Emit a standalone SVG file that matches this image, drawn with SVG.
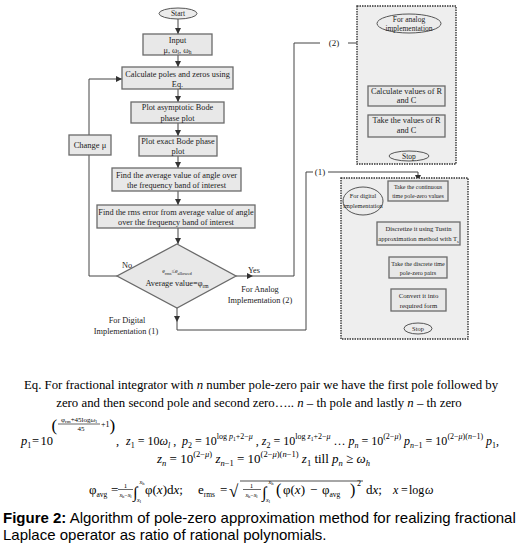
<svg xmlns="http://www.w3.org/2000/svg" width="530" height="557" viewBox="0 0 530 557">
<defs>
<marker id="ah" viewBox="0 0 10 10" refX="10" refY="5" markerWidth="6" markerHeight="7" markerUnits="userSpaceOnUse" orient="auto"><path d="M0,0 L10,5 L0,10 z" fill="#333"/></marker>
<style>
.box{fill:#e8e8e8;stroke:#6a6a6a;stroke-width:1.3}
.ell{fill:#ececec;stroke:#555;stroke-width:1}
.grp{fill:#eeeeee;stroke:#333;stroke-width:1.4;stroke-dasharray:1.5 1}
.ln{fill:none;stroke:#444;stroke-width:1}
.ar{fill:none;stroke:#444;stroke-width:1;marker-end:url(#ah)}
.t{font-family:"Liberation Serif",serif;font-size:8.3px;fill:#222;text-anchor:middle}
.m{font-family:"Liberation Serif",serif;font-size:13px;fill:#000}
.i{font-style:italic}
.cap{font-family:"Liberation Sans",Arial,sans-serif;font-size:15px;fill:#000}
</style>
</defs>

<g id="connectors">
<line class="ar" x1="178" y1="19" x2="178" y2="34"/>
<line class="ar" x1="178" y1="55" x2="178" y2="67"/>
<line class="ar" x1="178" y1="89" x2="178" y2="102"/>
<line class="ar" x1="178" y1="123" x2="178" y2="136"/>
<line class="ar" x1="178" y1="156" x2="178" y2="168"/>
<line class="ar" x1="178" y1="191" x2="178" y2="205"/>
<line class="ar" x1="178" y1="228" x2="178" y2="244"/>
<polyline class="ar" points="117,276 89,276 89,79 122,79"/>
<line class="ar" x1="236" y1="276" x2="253" y2="276"/>
<polyline class="ln" points="253,276 294,276 294,43 320,43"/>
<polyline class="ar" points="348,43 407,43 407,86"/>
<line class="ar" x1="177" y1="308" x2="177" y2="322"/>
<polyline class="ln" points="177,322 177,330 306,330 306,172 313,172"/>
<polyline class="ar" points="328,172 418,172 418,181"/>
<line class="ar" x1="407" y1="106" x2="407" y2="115"/>
<line class="ar" x1="407" y1="137" x2="407" y2="151"/>
<line class="ar" x1="418" y1="201" x2="418" y2="222"/>
<line class="ar" x1="418" y1="245" x2="418" y2="257"/>
<line class="ar" x1="418" y1="278" x2="418" y2="289"/>
<line class="ar" x1="418" y1="311" x2="418" y2="323"/>
</g>

<g id="labels">
<text class="t" x="127" y="268">No</text>
<text class="t" x="254" y="273">Yes</text>
<text class="t" x="260" y="292">For Analog</text>
<text class="t" x="260" y="303">Implementation (2)</text>
<text class="t" x="127" y="323">For Digital</text>
<text class="t" x="126" y="334">Implementation (1)</text>
<text class="t" x="334" y="46" style="font-size:9px">(2)</text>
<text class="t" x="320" y="175" style="font-size:9px">(1)</text>
</g>

<g id="start"><ellipse class="ell" cx="178" cy="13.5" rx="19" ry="5.5"/><text class="t" x="178" y="16.3" style="font-size:7.5px">Start</text></g>
<g id="input"><rect class="box" x="143" y="34" width="69" height="21"/><text class="t" x="177.5" y="43">Input</text><text class="t" x="177.5" y="52.5">μ, ω<tspan style="font-size:5.5px" dy="1.5">l</tspan><tspan dy="-1.5">, ω</tspan><tspan style="font-size:5.5px" dy="1.5">h</tspan></text></g>
<g id="calc"><rect class="box" x="122" y="67" width="111" height="22"/><text class="t" x="177.5" y="76.5">Calculate poles and zeros using</text><text class="t" x="177.5" y="86.5">Eq.</text></g>
<g id="asym"><rect class="box" x="131" y="102" width="93" height="21"/><text class="t" x="177.5" y="110">Plot asymptotic Bode</text><text class="t" x="177.5" y="120.5">phase plot</text></g>
<g id="exact"><rect class="box" x="139" y="136" width="78" height="20"/><text class="t" x="178" y="143.5">Plot exact Bode phase</text><text class="t" x="178" y="154">plot</text></g>
<g id="avg"><rect class="box" x="112" y="168" width="129" height="23"/><text class="t" x="176.5" y="177.5">Find the average value of angle over</text><text class="t" x="176.5" y="188">the frequency band of interest</text></g>
<g id="rms"><rect class="box" x="97" y="205" width="158" height="23"/><text class="t" x="176" y="214.5">Find the rms error from average value of angle</text><text class="t" x="176" y="225">over the frequency band of interest</text></g>
<g id="change"><rect class="box" x="69" y="135" width="42" height="20"/><text class="t" x="90" y="148" style="font-size:8.5px">Change μ</text></g>
<g id="decision"><polygon class="box" points="177,244 236,276 177,308 117,276"/><text class="t" x="177" y="273" style="font-size:6px">e<tspan dy="1.5" style="font-size:4.5px">rms</tspan><tspan dy="-1.5">≤e</tspan><tspan dy="1.5" style="font-size:4.5px">allowed</tspan></text><text class="t" x="177" y="286">Average value=φ<tspan dy="1.5" style="font-size:5.5px">rm</tspan></text></g>

<g id="analog">
<rect class="grp" x="357" y="6" width="99" height="158"/>
<g id="analog-title"><ellipse class="ell" cx="409" cy="23.5" rx="32" ry="9.5"/><text class="t" x="409" y="21.5" style="font-size:7.5px">For analog</text><text class="t" x="409" y="30.5" style="font-size:7.5px">implementation</text></g>
<g id="calcRC"><rect class="box" x="368" y="86" width="77" height="20"/><text class="t" x="406.5" y="94">Calculate values of R</text><text class="t" x="406.5" y="103">and C</text></g>
<g id="takeRC"><rect class="box" x="368" y="115" width="77" height="22"/><text class="t" x="406.5" y="123">Take the values of R</text><text class="t" x="406.5" y="133">and C</text></g>
<g id="stop1"><ellipse class="ell" cx="409" cy="156" rx="20" ry="5"/><text class="t" x="409" y="158.6" style="font-size:7.5px">Stop</text></g>
</g>

<g id="digital">
<rect class="grp" x="341" y="178" width="127" height="161"/>
<g id="digital-title"><ellipse class="ell" cx="363" cy="201" rx="20" ry="14"/><text class="t" x="363" y="198" style="font-size:6.3px">For digital</text><text class="t" x="363" y="207.5" style="font-size:6.3px">implementation</text></g>
<g id="cont"><rect class="box" x="388" y="181" width="60" height="20"/><text class="t" x="418" y="189" style="font-size:6px">Take the continuous</text><text class="t" x="418" y="197.5" style="font-size:6px">time pole-zero values</text></g>
<g id="tustin"><rect class="box" x="377" y="222" width="83" height="23"/><text class="t" x="418.5" y="231" style="font-size:6.6px">Discretize it using Tustin</text><text class="t" x="418.5" y="241" style="font-size:6.6px">approximation method with T<tspan dy="1.5" style="font-size:4.5px">s</tspan></text></g>
<g id="discrete"><rect class="box" x="389" y="257" width="58" height="21"/><text class="t" x="418" y="265.5" style="font-size:6.1px">Take the discrete time</text><text class="t" x="418" y="274.5" style="font-size:6.1px">pole-zero pairs</text></g>
<g id="convert"><rect class="box" x="391" y="289" width="55" height="22"/><text class="t" x="418.5" y="298" style="font-size:6.8px">Convert it into</text><text class="t" x="418.5" y="307.5" style="font-size:6.8px">required form</text></g>
<g id="stop2"><ellipse class="ell" cx="418" cy="328.5" rx="14" ry="5.5"/><text class="t" x="418" y="331" style="font-size:6.5px">Stop</text></g>
</g>

<g id="equations">
<text class="m" x="261" y="389" text-anchor="middle" style="font-size:12.8px">Eq. For fractional integrator with <tspan class="i">n</tspan> number pole-zero pair we have the first pole followed by</text>
<text class="m" x="259" y="407" text-anchor="middle" style="font-size:12.8px">zero and then second pole and second zero….. <tspan class="i">n</tspan> – th pole and lastly <tspan class="i">n</tspan> – th zero</text>

<text class="m" x="21" y="445" style="font-size:12.5px"><tspan class="i">p</tspan><tspan dy="3" style="font-size:8px">1</tspan><tspan dy="-3" x="32">=</tspan><tspan x="40.5">10</tspan></text>
<text class="m" x="51.5" y="431" style="font-size:17px">(</text>
<text class="m" x="79" y="421.5" text-anchor="middle" style="font-size:7px">φ<tspan dy="1.5" style="font-size:5px">rm</tspan><tspan dy="-1.5">+45log</tspan><tspan class="i">ω</tspan><tspan dy="1.5" style="font-size:5px">l</tspan></text>
<line x1="58" y1="424" x2="100" y2="424" stroke="#000" stroke-width="0.6"/>
<text class="m" x="81" y="431" text-anchor="middle" style="font-size:7px">45</text>
<text class="m" x="101" y="427" style="font-size:8px">+1</text>
<text class="m" x="109.5" y="431" style="font-size:17px">)</text>
<text class="m" x="116" y="445" style="font-size:12.5px">,</text>
<text class="m" x="126" y="445" style="font-size:12px"><tspan class="i">z</tspan><tspan dy="3" style="font-size:8px">1</tspan><tspan dy="-3"> = 10</tspan><tspan class="i">ω</tspan><tspan dy="3" class="i" style="font-size:8px">l</tspan><tspan dy="-3"> ,</tspan></text>
<text class="m" x="182" y="445" style="font-size:12px"><tspan class="i">p</tspan><tspan dy="3" style="font-size:8px">2</tspan><tspan dy="-3"> = 10</tspan><tspan dy="-6" style="font-size:8px">log <tspan class="i">p</tspan><tspan dy="2" style="font-size:5.5px">1</tspan><tspan dy="-2">+2−</tspan><tspan class="i">μ</tspan></tspan><tspan dy="6"> , </tspan><tspan class="i">z</tspan><tspan dy="3" style="font-size:8px">2</tspan><tspan dy="-3"> = 10</tspan><tspan dy="-6" style="font-size:8px">log <tspan class="i">z</tspan><tspan dy="2" style="font-size:5.5px">1</tspan><tspan dy="-2">+2−</tspan><tspan class="i">μ</tspan></tspan><tspan dy="6"> … </tspan><tspan class="i">p</tspan><tspan class="i" dy="3" style="font-size:8px">n</tspan><tspan dy="-3"> = 10</tspan><tspan dy="-6" style="font-size:8px">(2−<tspan class="i">μ</tspan>)</tspan><tspan dy="6"> </tspan><tspan class="i">p</tspan><tspan dy="3" style="font-size:8px"><tspan class="i">n</tspan>−1</tspan><tspan dy="-3"> = 10</tspan><tspan dy="-6" style="font-size:8px">(2−<tspan class="i">μ</tspan>)(<tspan class="i">n</tspan>−1)</tspan><tspan dy="6"> </tspan><tspan class="i">p</tspan><tspan dy="3" style="font-size:8px">1</tspan><tspan dy="-3">,</tspan></text>

<text class="m" x="157" y="463"><tspan class="i">z</tspan><tspan class="i" dy="3" style="font-size:8.5px">n</tspan><tspan dy="-3"> = 10</tspan><tspan dy="-6" style="font-size:8.5px">(2−<tspan class="i">μ</tspan>)</tspan><tspan dy="6"> </tspan><tspan class="i">z</tspan><tspan dy="3" style="font-size:8.5px"><tspan class="i">n</tspan>−1</tspan><tspan dy="-3"> = 10</tspan><tspan dy="-6" style="font-size:8.5px">(2−<tspan class="i">μ</tspan>)(<tspan class="i">n</tspan>−1)</tspan><tspan dy="6"> </tspan><tspan class="i">z</tspan><tspan dy="3" style="font-size:8.5px">1</tspan><tspan dy="-3"> till </tspan><tspan class="i">p</tspan><tspan class="i" dy="3" style="font-size:8.5px">n</tspan><tspan dy="-3"> ≥ </tspan><tspan class="i">ω</tspan><tspan class="i" dy="3" style="font-size:8.5px">h</tspan></text>

<text class="m" x="89" y="494">φ<tspan dy="3" style="font-size:7.5px">avg</tspan><tspan dy="-3" x="111">=</tspan></text>
<text class="m" x="125.5" y="487.5" text-anchor="middle" style="font-size:7px">1</text>
<line x1="118" y1="489.5" x2="133" y2="489.5" stroke="#000" stroke-width="0.6"/>
<text class="m" x="125.5" y="497" text-anchor="middle" style="font-size:6px"><tspan class="i">x</tspan><tspan dy="1" style="font-size:4.5px">h</tspan><tspan dy="-1">−</tspan><tspan class="i">x</tspan><tspan dy="1" style="font-size:4.5px">l</tspan></text>
<text class="m" x="133" y="498" style="font-size:16px">∫</text>
<text class="m" x="139.5" y="484" style="font-size:6px"><tspan class="i">x</tspan><tspan dy="1" style="font-size:4.5px">h</tspan></text>
<text class="m" x="137" y="502" style="font-size:6px"><tspan class="i">x</tspan><tspan dy="1" style="font-size:4.5px">l</tspan></text>
<text class="m" x="145" y="494">φ(<tspan class="i">x</tspan>)d<tspan class="i">x</tspan>;</text>
<text class="m" x="198" y="494">e<tspan dy="3" style="font-size:7.5px">rms</tspan><tspan dy="-3" x="220">=</tspan></text>
<text class="m" x="229" y="497" style="font-size:17px">√</text>
<line x1="240" y1="481" x2="363" y2="481" stroke="#000" stroke-width="0.7"/>
<text class="m" x="251.5" y="487.5" text-anchor="middle" style="font-size:7px">1</text>
<line x1="243" y1="489.5" x2="261" y2="489.5" stroke="#000" stroke-width="0.6"/>
<text class="m" x="251.5" y="497" text-anchor="middle" style="font-size:6px"><tspan class="i">x</tspan><tspan dy="1" style="font-size:4.5px">h</tspan><tspan dy="-1">−</tspan><tspan class="i">x</tspan><tspan dy="1" style="font-size:4.5px">l</tspan></text>
<text class="m" x="262" y="498" style="font-size:16px">∫</text>
<text class="m" x="268.5" y="484" style="font-size:6px"><tspan class="i">x</tspan><tspan dy="1" style="font-size:4.5px">h</tspan></text>
<text class="m" x="266" y="502" style="font-size:6px"><tspan class="i">x</tspan><tspan dy="1" style="font-size:4.5px">l</tspan></text>
<text class="m" x="276" y="495" style="font-size:16px">(</text>
<text class="m" x="283" y="494">φ(<tspan class="i">x</tspan>)<tspan x="310">−</tspan><tspan x="322">φ</tspan><tspan dy="3" style="font-size:7.5px">avg</tspan></text>
<text class="m" x="350" y="495" style="font-size:16px">)</text>
<text class="m" x="357" y="486" style="font-size:8px">2</text>
<text class="m" x="366" y="494">d<tspan class="i">x</tspan>;</text>
<text class="m" x="393" y="494" style="font-size:12px"><tspan class="i">x</tspan><tspan x="401">=</tspan><tspan x="409">log</tspan><tspan class="i" x="427" dx="-2">ω</tspan></text>
</g>

<g id="caption">
<text class="cap" x="3" y="523"><tspan font-weight="bold">Figure 2:</tspan> Algorithm of pole-zero approximation method for realizing fractional</text>
<text class="cap" x="3" y="540">Laplace operator as ratio of rational polynomials.</text>
</g>
</svg>
